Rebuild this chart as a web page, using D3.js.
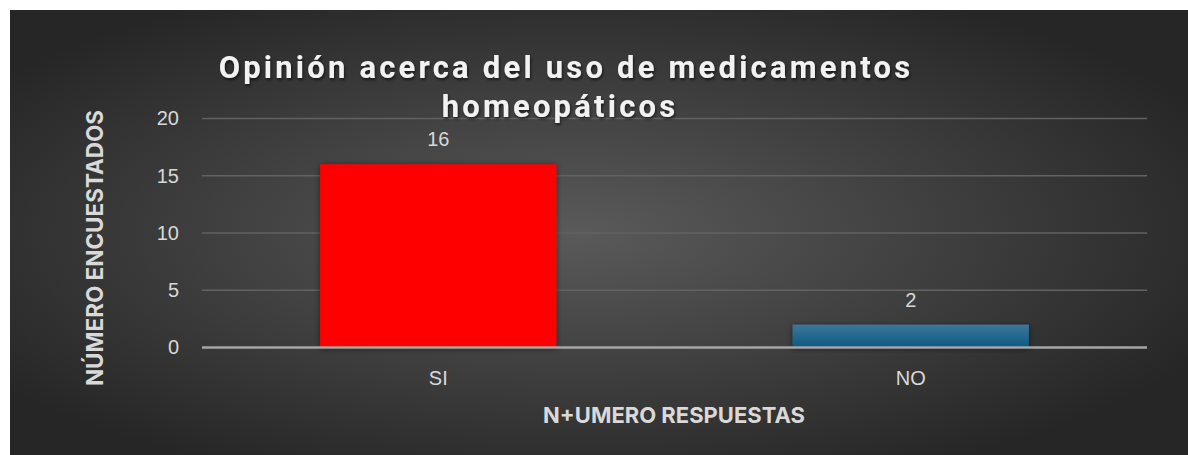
<!DOCTYPE html>
<html>
<head>
<meta charset="utf-8">
<script src="https://cdn.jsdelivr.net/npm/d3@7"></script>
<style>
  body { margin: 0; background: #ffffff; }
  svg { display: block; }
</style>
</head>
<body>
<div id="chart"></div>
<script>
const categories = ['SI', 'NO'];
const values = [16, 2];
const yTicks = [0, 5, 10, 15, 20];
const titleLines = ['Opinión acerca del uso de medicamentos', 'homeopáticos'];
const xTitle = 'N+UMERO RESPUESTAS';
const yTitle = 'NÚMERO ENCUESTADOS';

(function() {
    const width = 1188;
    const height = 455;
    const margin = {top: 118.5, right: 41, bottom: 107.5, left: 202};

    const svg = d3.select('#chart')
        .append('svg')
        .attr('width', width)
        .attr('height', height);

    const defs = svg.append('defs');

    const bg = defs.append('radialGradient')
        .attr('id', 'bg')
        .attr('cx', '48%').attr('cy', '50%').attr('r', '60%');
    bg.append('stop').attr('offset', '0%').attr('stop-color', '#5a5a5a');
    bg.append('stop').attr('offset', '100%').attr('stop-color', '#262626');

    const blue = defs.append('linearGradient')
        .attr('id', 'blueBar')
        .attr('x1', 0).attr('y1', 0).attr('x2', 0).attr('y2', 1);
    blue.append('stop').attr('offset', '0%').attr('stop-color', '#3f7699');
    blue.append('stop').attr('offset', '100%').attr('stop-color', '#0a5a82');

    const shadow = defs.append('filter')
        .attr('id', 'shadow')
        .attr('x', '-10%').attr('y', '-10%').attr('width', '120%').attr('height', '130%');
    shadow.append('feDropShadow')
        .attr('dx', 0).attr('dy', 1).attr('stdDeviation', 3)
        .attr('flood-color', '#000').attr('flood-opacity', 0.5);

    const textShadow = defs.append('filter').attr('id', 'tshadow');
    textShadow.append('feDropShadow')
        .attr('dx', 1).attr('dy', 2).attr('stdDeviation', 1.5)
        .attr('flood-color', '#000').attr('flood-opacity', 0.6);

    svg.append('rect')
        .attr('x', 10).attr('y', 10)
        .attr('width', width - 10).attr('height', height - 10)
        .attr('fill', 'url(#bg)');

    const x = d3.scaleBand()
        .domain(categories)
        .range([margin.left, width - margin.right])
        .paddingInner(0.5)
        .paddingOuter(0.25);

    const y = d3.scaleLinear()
        .domain([0, 20])
        .range([height - margin.bottom, margin.top]);

    // gridlines
    svg.append('g')
        .selectAll('line')
        .data(yTicks.filter(d => d > 0))
        .enter()
        .append('line')
        .attr('x1', margin.left)
        .attr('x2', width - margin.right)
        .attr('y1', d => y(d))
        .attr('y2', d => y(d))
        .attr('stroke', '#626262')
        .attr('stroke-width', 1.5);

    // y tick labels
    const yAxis = svg.append('g')
        .attr('transform', `translate(${margin.left - 23},0)`)
        .call(d3.axisLeft(y).tickValues(yTicks).tickSize(0).tickPadding(0));
    yAxis.select('.domain').remove();
    yAxis.selectAll('text')
        .attr('fill', '#d9d9d9')
        .attr('font-family', 'Liberation Sans, Arial, sans-serif')
        .attr('font-size', '20px');

    // bars
    svg.append('g')
        .selectAll('rect')
        .data(values)
        .enter()
        .append('rect')
        .attr('x', (d, i) => x(categories[i]))
        .attr('y', d => y(d))
        .attr('width', x.bandwidth())
        .attr('height', d => y(0) - y(d))
        .attr('fill', (d, i) => i === 0 ? '#ff0000' : 'url(#blueBar)')
        .attr('filter', 'url(#shadow)');

    // value labels
    svg.append('g')
        .selectAll('text')
        .data(values)
        .enter()
        .append('text')
        .attr('x', (d, i) => x(categories[i]) + x.bandwidth() / 2)
        .attr('y', d => y(d) - 18)
        .attr('text-anchor', 'middle')
        .attr('fill', '#d9d9d9')
        .attr('font-family', 'Liberation Sans, Arial, sans-serif')
        .attr('font-size', '20px')
        .text(d => d);

    // x axis baseline
    svg.append('line')
        .attr('x1', margin.left)
        .attr('x2', width - margin.right)
        .attr('y1', y(0))
        .attr('y2', y(0))
        .attr('stroke', '#a6a6a6')
        .attr('stroke-width', 2.5);

    const xAxis = svg.append('g')
        .attr('transform', `translate(0,${y(0)})`)
        .call(d3.axisBottom(x).tickSize(0).tickPadding(23));
    xAxis.select('.domain').remove();
    xAxis.selectAll('text')
        .attr('fill', '#d9d9d9')
        .attr('font-family', 'Liberation Sans, Arial, sans-serif')
        .attr('font-size', '20px');

    // axis titles
    svg.append('text')
        .attr('x', 674)
        .attr('y', 423)
        .attr('text-anchor', 'middle')
        .attr('fill', '#d9d9d9')
        .attr('font-family', 'Inter, Liberation Sans, sans-serif')
        .attr('font-weight', 'bold')
        .attr('font-size', '22px')
        .text(xTitle);

    svg.append('text')
        .attr('transform', 'rotate(-90)')
        .attr('x', -248)
        .attr('y', 103)
        .attr('text-anchor', 'middle')
        .attr('fill', '#d9d9d9')
        .attr('font-family', 'Inter, Liberation Sans, sans-serif')
        .attr('font-weight', 'bold')
        .attr('font-size', '22.5px')
        .text(yTitle);

    // title
    svg.append('g')
        .attr('filter', 'url(#tshadow)')
        .selectAll('text')
        .data(titleLines)
        .enter()
        .append('text')
        .attr('x', (d, i) => i === 0 ? 566 : 560)
        .attr('y', (d, i) => 78 + i * 39)
        .attr('text-anchor', 'middle')
        .attr('fill', '#f2f2f2')
        .attr('font-family', 'Roboto, sans-serif')
        .attr('font-weight', 'bold')
        .attr('font-size', '31px')
        .attr('letter-spacing', '3.2px')
        .text(d => d);
})();
</script>
</body>
</html>
